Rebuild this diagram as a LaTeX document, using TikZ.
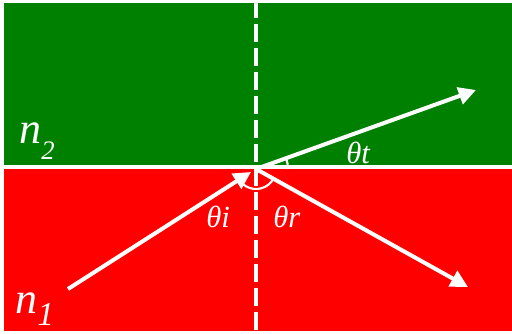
\documentclass[tikz,border=0pt]{standalone}
\usepackage{fontspec}
\setmainfont{Liberation Serif}
\usetikzlibrary{arrows.meta}
\definecolor{mediumgreen}{RGB}{0,128,0}
\definecolor{mediumred}{RGB}{255,0,0}
\tikzset{
  ray/.style={white,line width=3pt,-{Triangle[length=13pt,width=13pt]}},
  anglearc/.style={white,line width=1.6pt},
  normalline/.style={white,line width=3pt,dash pattern=on 13.5pt off 4.5pt},
  lbl/.style={anchor=base west,inner sep=0pt,text=white,font=\fontsize{23}{23}\selectfont\itshape}
}
\begin{document}
\begin{tikzpicture}[x=0.75pt,y=-0.75pt]
\useasboundingbox (0,0) rectangle (512,333);
\fill[white] (0,0) rectangle (512,333);
\fill[mediumgreen] (4,3) rectangle (512,165);
\fill[mediumred] (4,169) rectangle (512,331);
\coordinate (top) at (256,0);
\coordinate (bot) at (256,333);
\draw[normalline] (top) -- (bot);
\coordinate (O) at (256,169);
\coordinate (A) at (68,289);
\coordinate (Aend) at (251,172);
\coordinate (T) at (476,90);
\coordinate (R) at (468,287);
\draw[ray] (A) -- (Aend);
\draw[ray] (O) -- (T);
\draw[ray] (O) -- (R);
\draw[anglearc] ([shift={(29:20)}]O) arc[start angle=29,end angle=147,radius=20];
\draw[anglearc] ([shift={(-19.8:32)}]O) arc[start angle=-19.8,end angle=0,radius=32];
\node[lbl] (tt) at (346,163) {θt};
\node[lbl] (ti) at (206,227) {θi};
\node[lbl] (tr) at (273,227) {θr};
\node[anchor=base west,inner sep=0pt,text=white] (n2) at (19,143)
  {\fontsize{33}{33}\selectfont\itshape n\raisebox{-12.5pt}{\fontsize{20}{20}\selectfont 2}};
\node[anchor=base west,inner sep=0pt,text=white] (n1) at (15,313)
  {\fontsize{33}{33}\selectfont\itshape n\raisebox{-9pt}{\fontsize{25}{25}\selectfont 1}};
\end{tikzpicture}
\end{document}
